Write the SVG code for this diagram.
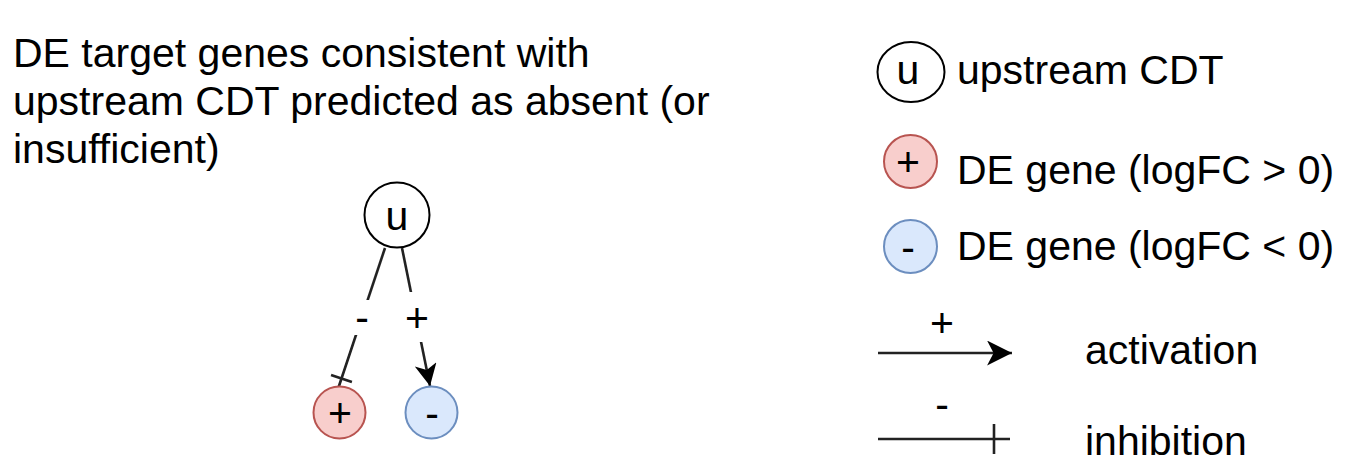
<svg xmlns="http://www.w3.org/2000/svg" width="1354" height="474" viewBox="0 0 1354 474">
<defs>
<style>
text{font-family:"Liberation Sans",Arial,Helvetica,sans-serif;font-size:41px;fill:#000}
.mid{text-anchor:middle}
.node{stroke-width:2}
.plain{fill:#fff;stroke:#000}
.red{fill:#f8cecc;stroke:#b85450}
.blue{fill:#dae8fc;stroke:#6c8ebf}
.edge{fill:none;stroke:#222;stroke-width:2.6}
</style>
<marker id="arrow" markerUnits="userSpaceOnUse" markerWidth="26" markerHeight="26" viewBox="0 0 24 24" refX="23" refY="11.5" orient="auto">
<path d="M0,0 L23,11.5 L0,23 L6,11.5 Z" fill="#000"/>
</marker>
<marker id="arrowS" markerUnits="userSpaceOnUse" markerWidth="23" markerHeight="23" viewBox="0 0 24 24" refX="23" refY="11.5" orient="auto">
<path d="M0,0 L23,11.5 L0,23 L6,11.5 Z" fill="#000"/>
</marker>
<marker id="bar" markerUnits="userSpaceOnUse" markerWidth="40" markerHeight="40" viewBox="-30 -20 40 40" refX="0" refY="0" orient="auto">
<path d="M-16,-15 L-16,15" stroke="#222" stroke-width="2.6"/>
</marker>
<marker id="barS" markerUnits="userSpaceOnUse" markerWidth="40" markerHeight="40" viewBox="-30 -20 40 40" refX="0" refY="0" orient="auto">
<path d="M-11,-11 L-11,11" stroke="#222" stroke-width="2.6"/>
</marker>
</defs>
<rect width="1354" height="474" fill="#fff"/>

<g id="title">
<text x="13" y="67">DE target genes consistent with</text>
<text x="13" y="115">upstream CDT predicted as absent (or</text>
<text x="13" y="163">insufficient)</text>
</g>

<g id="connectors">
<line class="edge" x1="385" y1="248" x2="338" y2="389" marker-end="url(#barS)"/>
<line class="edge" x1="402" y1="248" x2="430" y2="386" marker-end="url(#arrowS)"/>
<rect x="349" y="300" width="26" height="35" fill="#fff"/>
<rect x="404" y="292" width="26" height="50" fill="#fff"/>
<text class="mid" x="362" y="331">-</text>
<text class="mid" x="417" y="332">+</text>
</g>

<g id="node-u">
<circle class="node plain" cx="397" cy="215" r="32.5"/>
<text class="mid" x="397" y="230">u</text>
</g>
<g id="node-plus">
<circle class="node red" cx="339.5" cy="412.5" r="26"/>
<text class="mid" x="340" y="427">+</text>
</g>
<g id="node-minus">
<circle class="node blue" cx="431.5" cy="412.5" r="26"/>
<text class="mid" x="432" y="427">-</text>
</g>

<g id="legend-upstream">
<ellipse class="node plain" cx="911" cy="72" rx="33.5" ry="30"/>
<text class="mid" x="908" y="84">u</text>
<text x="957" y="84">upstream CDT</text>
</g>
<g id="legend-de-up">
<circle class="node red" cx="910.5" cy="161.5" r="26.5"/>
<text class="mid" x="908" y="176">+</text>
<text x="957" y="184">DE gene (logFC &gt; 0)</text>
</g>
<g id="legend-de-down">
<circle class="node blue" cx="910.5" cy="246.5" r="26.5"/>
<text class="mid" x="908" y="261">-</text>
<text x="957" y="260">DE gene (logFC &lt; 0)</text>
</g>
<g id="legend-activation">
<line class="edge" x1="878" y1="353" x2="1012" y2="353" marker-end="url(#arrow)"/>
<text class="mid" x="942" y="337">+</text>
<text x="1085" y="364">activation</text>
</g>
<g id="legend-inhibition">
<line class="edge" x1="878" y1="439" x2="1010" y2="439" marker-end="url(#bar)"/>
<text class="mid" x="942" y="418">-</text>
<text x="1085" y="455">inhibition</text>
</g>
</svg>
